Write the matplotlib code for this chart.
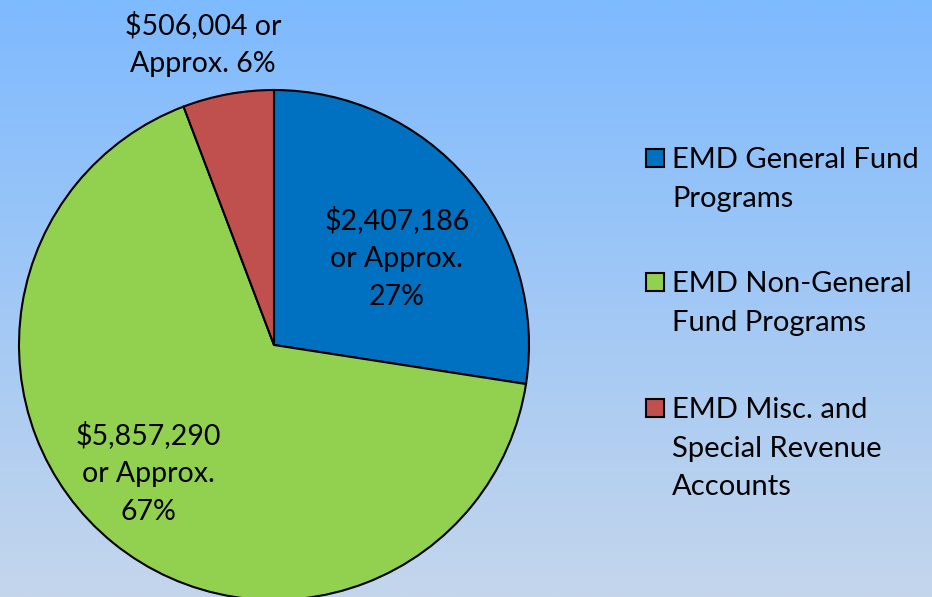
import numpy as np
import matplotlib
matplotlib.use("Agg")
import matplotlib.pyplot as plt
from matplotlib.patches import Rectangle

categories = ["EMD General Fund\nPrograms",
              "EMD Non-General\nFund Programs",
              "EMD Misc. and\nSpecial Revenue\nAccounts"]
values = [2407186, 5857290, 506004]
percents = [27, 67, 6]
colors = ["#0070C0", "#92D050", "#C0504D"]

FONT = ["Lato", "DejaVu Sans"]
plt.rcParams['font.family'] = FONT

W, H = 932, 597
fig = plt.figure(figsize=(W / 100, H / 100), dpi=100)

# background gradient
bg = fig.add_axes([0, 0, 1, 1], zorder=-10)
top = np.array([126, 186, 255]) / 255
bot = np.array([196, 214, 236]) / 255
t = np.linspace(0, 1, 300)[:, None]
grad = (top[None, :] * (1 - t) + bot[None, :] * t)[:, None, :]
bg.imshow(grad, aspect='auto', extent=[0, 1, 0, 1], origin='upper')
bg.axis('off')

# pie axes: center (274,345) px, radius 255 px
cx, cy, r = 274, 345, 255
ax = fig.add_axes([(cx - r) / W, (H - cy - r) / H, 2 * r / W, 2 * r / H])
wedges, _ = ax.pie(values, colors=colors, startangle=90, counterclock=False,
                   radius=1, wedgeprops=dict(edgecolor='black', linewidth=1.5))
ax.set_xlim(-1, 1)
ax.set_ylim(-1, 1)
ax.axis('off')

label_texts = [f"${values[0]:,.0f}\nor Approx.\n{percents[0]}%",
               f"${values[1]:,.0f}\nor Approx.\n{percents[1]}%",
               f"${values[2]:,.0f} or\nApprox. {percents[2]}%"]
label_pos = [(0.482, 0.341), (-0.494, -0.502), (-0.278, 1.18)]
for txt, (x, y) in zip(label_texts, label_pos):
    ax.text(x, y, txt, ha='center', va='center', fontsize=20.5,
            linespacing=1.55, clip_on=False)

# legend (manual)
leg_y = [158, 282, 408]
for lab, col, y in zip(categories, colors, leg_y):
    s = 18
    fig.patches.append(Rectangle(((646) / W, (H - y - s / 2) / H), s / W, s / H,
                                 transform=fig.transFigure, facecolor=col,
                                 edgecolor='black', linewidth=1.5))
    fig.text(672 / W, (H - y + 11) / H, lab, ha='left', va='top',
             fontsize=21, linespacing=1.6)

fig.savefig("out.png", dpi=100)
